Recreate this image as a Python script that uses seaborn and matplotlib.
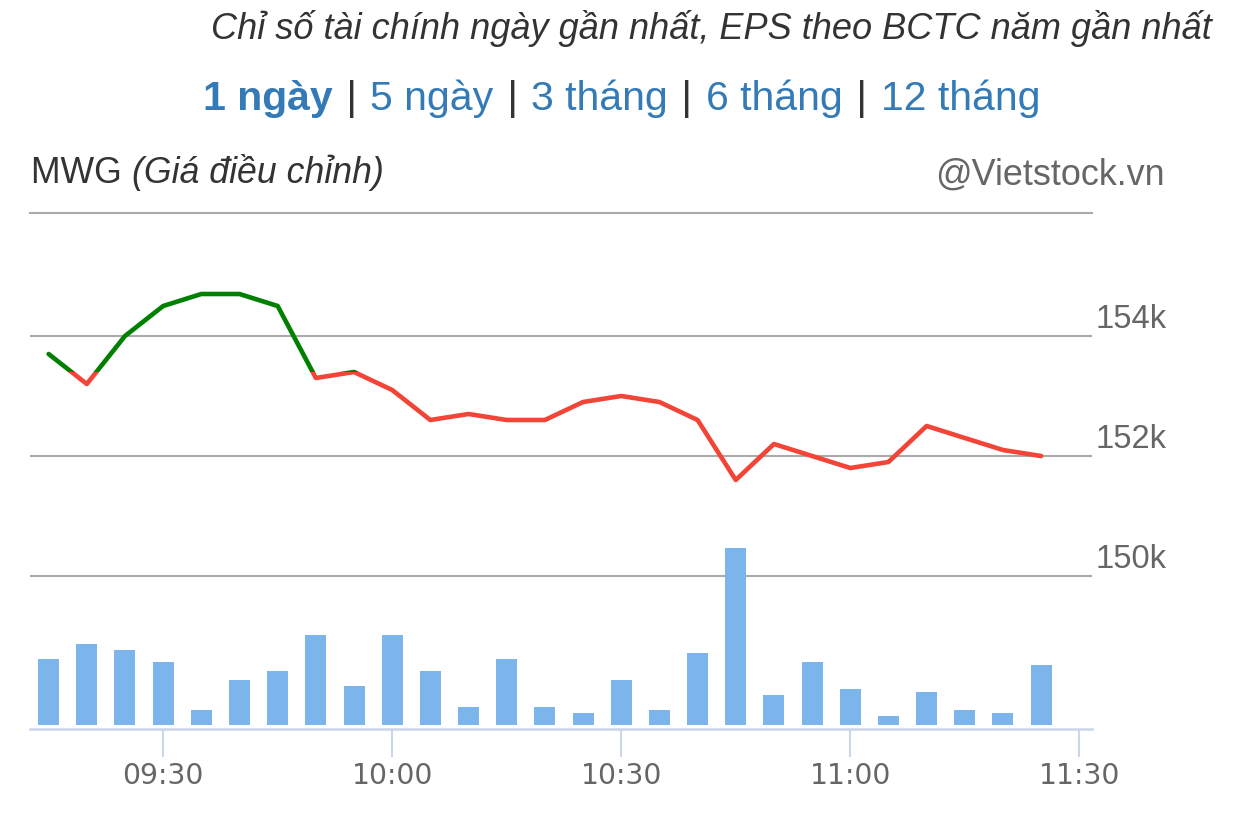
import matplotlib
matplotlib.use("Agg")
import matplotlib.pyplot as plt
import matplotlib.transforms as mtransforms
from matplotlib.patches import Rectangle
import seaborn as sns
import pandas as pd

# ---------------- data ----------------
times = ["09:15", "09:20", "09:25", "09:30", "09:35", "09:40", "09:45", "09:50", "09:55",
         "10:00", "10:05", "10:10", "10:15", "10:20", "10:25", "10:30", "10:35", "10:40",
         "10:45", "10:50", "10:55", "11:00", "11:05", "11:10", "11:15", "11:20", "11:25"]
prices = [153.7, 153.2, 154.0, 154.5, 154.7, 154.7, 154.5, 153.3, 153.4,
          153.1, 152.6, 152.7, 152.6, 152.6, 152.9, 153.0, 152.9, 152.6,
          151.6, 152.2, 152.0, 151.8, 151.9, 152.5, 152.3, 152.1, 152.0]
volumes = [66, 81, 75, 63, 15, 45, 54, 90, 39,
           90, 54, 18, 66, 18, 12, 45, 15, 72,
           177, 30, 63, 36, 9, 33, 15, 12, 60]
reference_price = 153.4
price_ticks = [150, 152, 154]
price_tick_labels = ["150k", "152k", "154k"]
time_ticks = ["09:30", "10:00", "10:30", "11:00", "11:30"]

title_text = "Chỉ số tài chính ngày gần nhất, EPS theo BCTC năm gần nhất"
period_links = ["1 ngày", "5 ngày", "3 tháng", "6 tháng", "12 tháng"]
chart_label = "MWG"
chart_sublabel = "(Giá điều chỉnh)"
watermark = "@Vietstock.vn"


def to_min(t):
    h, m = t.split(":")
    return int(h) * 60 + int(m)


df = pd.DataFrame({"minute": [to_min(t) for t in times], "price": prices, "volume": volumes})

# ---------------- style ----------------
sns.set_style("white")
plt.rcParams["font.family"] = ["Liberation Sans", "DejaVu Sans"]

GREEN = "#008000"
RED = "#f24437"
BAR = "#7cb5ec"
GRID = "#aaaaaa"
AXIS = "#ccd6eb"
BLUE = "#337ab7"

W, H = 1242, 825
fig = plt.figure(figsize=(W / 100, H / 100), dpi=100)

ax_left, ax_right, ax_top, ax_bottom = 30, 1092, 213.3, 729.3
ax = fig.add_axes([ax_left / W, 1 - ax_bottom / H, (ax_right - ax_left) / W, (ax_bottom - ax_top) / H])

xmin, xmax = 552.56, 691.66
ymin, ymax = 147.445, 156.045

# price line: green above reference, red below
for col, lo, hi in [(GREEN, reference_price, ymax), (RED, ymin, reference_price)]:
    sns.lineplot(data=df, x="minute", y="price", ax=ax, color=col, linewidth=3.3,
                 errorbar=None, sort=True)
    ln = ax.lines[-1]
    ln.set_solid_joinstyle("round")
    ln.set_solid_capstyle("round")
    rect = Rectangle((xmin - 10, lo), (xmax - xmin) + 20, hi - lo, transform=ax.transData)
    ln.set_clip_path(rect)

ax.set_xlim(xmin, xmax)
ax.set_ylim(ymin, ymax)
ax.set_yticks(price_ticks)
ax.set_yticklabels([])
ax.yaxis.grid(True, color=GRID, linewidth=1.5)
ax.xaxis.grid(False)
ax.tick_params(axis="y", length=0)
for s in ["left", "right"]:
    ax.spines[s].set_visible(False)
ax.spines["top"].set_color(GRID)
ax.spines["top"].set_linewidth(1.5)
ax.spines["bottom"].set_color(AXIS)
ax.spines["bottom"].set_linewidth(1.8)
ax.set_xlabel("")
ax.set_ylabel("")

# volume bars on a twin axis
ax2 = ax.twinx()
sns.barplot(data=df, x="minute", y="volume", ax=ax2, native_scale=True, color=BAR,
            saturation=1, width=0.55, errorbar=None, linewidth=0)
ax2.set_ylim(-4.3, 511.7)
ax2.set_yticks([])
ax2.set_ylabel("")
ax2.set_xlabel("")
for s in ax2.spines.values():
    s.set_visible(False)
ax2.patch.set_visible(False)

ax.set_xlim(xmin, xmax)
ax.set_xticks([to_min(t) for t in time_ticks])
ax.set_xticklabels(time_ticks, family="DejaVu Sans", fontsize=20.3, color="#666666")
ax.tick_params(axis="x", direction="out", length=20, width=1.5, color=AXIS, pad=3.5, bottom=True)
ax2.tick_params(axis="x", length=0)

# price labels to the right of grid lines
trans = mtransforms.blended_transform_factory(fig.transFigure, ax.transData)
trans = mtransforms.offset_copy(trans, fig=fig, y=8, units="dots")
for v, lab in zip(price_ticks, price_tick_labels):
    ax.text(1166.7 / W, v, lab, transform=trans, ha="right", va="baseline",
            fontsize=23.5, color="#666666", clip_on=False)

# ---------------- header texts ----------------
bg = fig.add_axes([0, 0, 1, 1], zorder=-1)
bg.axis("off")
bg.set_xlim(0, 1)
bg.set_ylim(0, 1)

fig.text(1212 / W, 1 - 39 / H, title_text, ha="right", va="baseline", fontsize=26,
         style="italic", color="#333333")

# period links row
LINK_FS = 29.5
prev = bg.text(203 / W, 1 - 110 / H, period_links[0], ha="left", va="baseline", fontsize=LINK_FS,
               weight="bold", color=BLUE)
for lab in period_links[1:]:
    sep = bg.annotate(" | ", xy=(1, 0), xycoords=prev, xytext=(1.6, 0), textcoords="offset points",
                      ha="left", va="bottom", fontsize=LINK_FS, color="#333333")
    prev = bg.annotate(lab, xy=(1, 0), xycoords=sep, xytext=(1.6, 0), textcoords="offset points",
                       ha="left", va="bottom", fontsize=LINK_FS, color=BLUE)

# chart label
t1 = bg.text(31 / W, 1 - 183 / H, chart_label + " ", ha="left", va="baseline", fontsize=25.7,
             color="#333333")
bg.annotate(chart_sublabel, xy=(1, 0), xycoords=t1, ha="left", va="bottom", fontsize=25.7,
            style="italic", color="#333333")

fig.text(1165 / W, 1 - 185 / H, watermark, ha="right", va="baseline", fontsize=25.9,
         color="#666666")

fig.savefig("out.png", dpi=100)
